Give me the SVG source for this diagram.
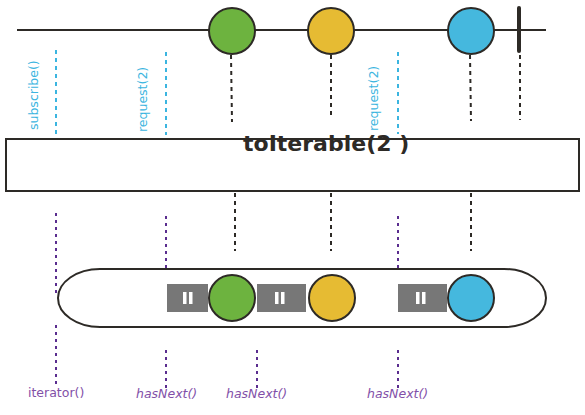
<svg xmlns="http://www.w3.org/2000/svg" width="585" height="415" viewBox="0 0 585 415">
<style>
.ln{stroke:#2d2a26;stroke-width:2;fill:none}
.blk{stroke:#2d2a26;stroke-width:2;stroke-dasharray:4 4;fill:none}
.req{stroke:#3bb5e0;stroke-width:2;stroke-dasharray:4 4;fill:none}
.pur{stroke:#5a2d8f;stroke-width:2;stroke-dasharray:3 4;fill:none}
.c{stroke:#2d2a26;stroke-width:2}
.g{fill:#6db33f}.y{fill:#e6bb33}.b{fill:#45b8de}
.lbl{font-family:"DejaVu Sans",Verdana,sans-serif;font-size:12.5px;fill:#3bb5e0}
.pl{font-family:"DejaVu Sans",Verdana,sans-serif;font-size:12.5px;fill:#8250a8}
.it{font-style:italic}
.pause{fill:#777}
.bar{fill:#fff}
</style>
<g id="timeline">
<line class="ln" x1="17" y1="30" x2="546" y2="30"/>
<line x1="519" y1="8" x2="519" y2="51" stroke="#2d2a26" stroke-width="4" stroke-linecap="round"/>
</g>
<g id="connectors">
<line class="blk" x1="231" y1="55" x2="232" y2="122"/>
<line class="blk" x1="331" y1="55" x2="331" y2="115"/>
<line class="blk" x1="470" y1="55" x2="471" y2="121"/>
<line class="blk" x1="520" y1="55" x2="520" y2="120"/>
<line class="req" x1="56" y1="50" x2="56" y2="134"/>
<line class="req" x1="166" y1="52" x2="166" y2="135"/>
<line class="req" x1="398" y1="52" x2="398" y2="134"/>
<line class="blk" x1="235" y1="193" x2="235" y2="251"/>
<line class="blk" x1="331" y1="193" x2="331" y2="251"/>
<line class="blk" x1="471" y1="193" x2="471" y2="251"/>
<line class="pur" x1="56" y1="213" x2="56" y2="296"/>
<line class="pur" x1="56" y1="325" x2="56" y2="388"/>
<line class="pur" x1="166" y1="216" x2="166" y2="268"/>
<line class="pur" x1="166" y1="350" x2="166" y2="388"/>
<line class="pur" x1="257" y1="350" x2="257" y2="388"/>
<line class="pur" x1="398" y1="216" x2="398" y2="268"/>
<line class="pur" x1="398" y1="350" x2="398" y2="388"/>
</g>
<g id="src-green"><circle class="c g" cx="232" cy="31" r="23"/></g>
<g id="src-yellow"><circle class="c y" cx="331" cy="31" r="23"/></g>
<g id="src-blue"><circle class="c b" cx="471" cy="31" r="23"/></g>
<g id="labels-top">
<text class="lbl" transform="translate(38,130) rotate(-90)">subscribe()</text>
<text class="lbl" transform="translate(147,132) rotate(-90)">request(2)</text>
<text class="lbl" transform="translate(378,131) rotate(-90)">request(2)</text>
</g>
<g id="operator">
<rect x="6" y="139" width="573" height="52" fill="#fff" stroke="#2d2a26" stroke-width="2"/>
<text x="243" y="151" font-family="'DejaVu Sans',Verdana,sans-serif" font-weight="bold" font-size="22" fill="#2d2a26">toIterable(2 )</text>
</g>
<g id="iterable">
<rect x="58" y="269" width="488" height="58" rx="42" ry="29" fill="#fff" stroke="#2d2a26" stroke-width="2"/>
</g>
<g id="pause1"><rect class="pause" x="167" y="284" width="41" height="28"/><rect class="bar" x="183" y="292" width="3.5" height="12"/><rect class="bar" x="189" y="292" width="3.5" height="12"/></g>
<g id="pause2"><rect class="pause" x="257" y="284" width="49" height="28"/><rect class="bar" x="275" y="292" width="3.5" height="12"/><rect class="bar" x="281" y="292" width="3.5" height="12"/></g>
<g id="pause3"><rect class="pause" x="398" y="284" width="49" height="28"/><rect class="bar" x="416" y="292" width="3.5" height="12"/><rect class="bar" x="422" y="292" width="3.5" height="12"/></g>
<g id="out-green"><circle class="c g" cx="232" cy="298" r="23"/></g>
<g id="out-yellow"><circle class="c y" cx="332" cy="298" r="23"/></g>
<g id="out-blue"><circle class="c b" cx="471" cy="298" r="23"/></g>
<g id="labels-bottom">
<text class="pl" x="28" y="397">iterator()</text>
<text class="pl it" x="136" y="398">hasNext()</text>
<text class="pl it" x="226" y="398">hasNext()</text>
<text class="pl it" x="367" y="398">hasNext()</text>
</g>
</svg>
